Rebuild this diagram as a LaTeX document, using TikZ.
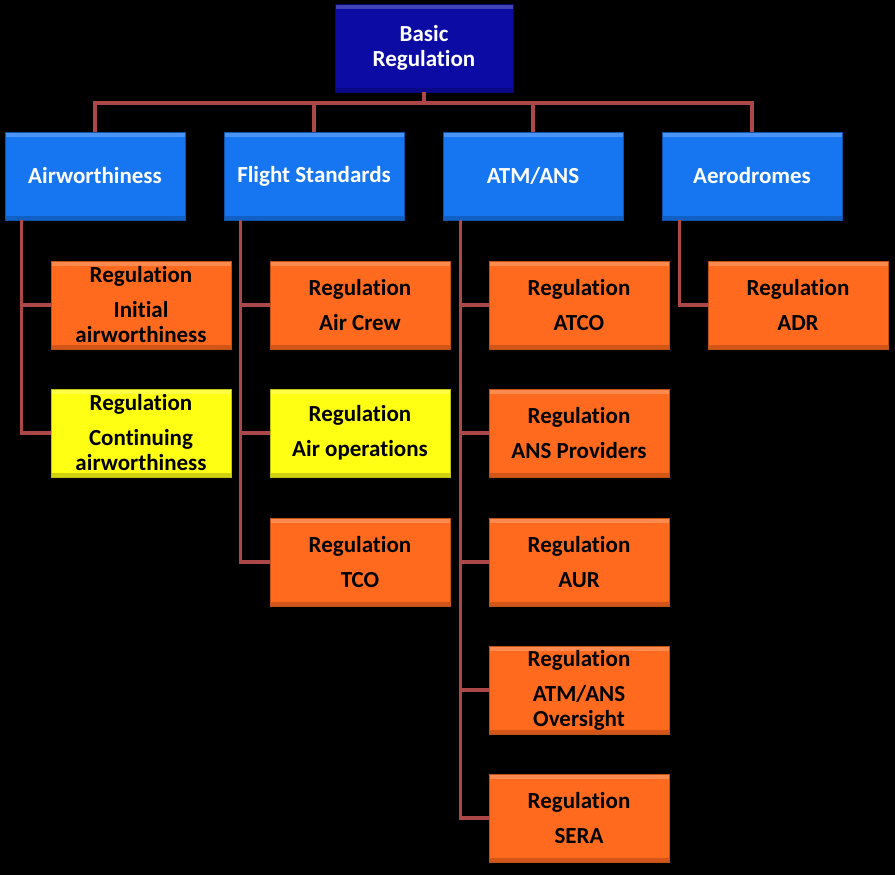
\documentclass[tikz,border=0pt]{standalone}
\usepackage{fontspec}
\setmainfont{Carlito}[Ligatures=NoCommon]
\begin{document}
\begin{tikzpicture}[x=1pt,y=-1pt,
  box/.style={rectangle, inner sep=0pt, minimum width=180pt, minimum height=88pt,
    align=center, font=\fontsize{23}{25}\selectfont\bfseries, line width=0.8pt,
    path picture={\fill[white,opacity=0.22] (path picture bounding box.north west) rectangle ([yshift=-5pt]path picture bounding box.north east);
                  \fill[black,opacity=0.18] (path picture bounding box.south west) rectangle ([yshift=4pt]path picture bounding box.south east);}},
  topbox/.style={box, minimum width=178pt, fill=topblue, draw=topblue!70!black, text=white},
  catbox/.style={box, fill=catblue, draw=catblue!70!black, text=white},
  regbox/.style={box, fill=regorange, draw=regorange!75!black, text=black},
  yelbox/.style={box, fill=regyellow, draw=regyellow!75!black, text=black},
  conn/.style={draw=connred, line width=3.2pt}
]
\definecolor{topblue}{RGB}{12,12,165}
\definecolor{catblue}{RGB}{22,118,242}
\definecolor{regorange}{RGB}{255,106,30}
\definecolor{regyellow}{RGB}{255,255,20}
\definecolor{connred}{RGB}{172,72,72}
\fill[black] (0,0) rectangle (895,875);
\useasboundingbox (0,0) rectangle (895,875);

\node[topbox] (basic) at (424,48) {Basic\\Regulation};

\node[catbox] (air) at (95,176) {Airworthiness};
\node[catbox] (fs)  at (314,176) {Flight Standards};
\node[catbox] (atm) at (533,176) {ATM/ANS};
\node[catbox] (adr) at (752,176) {Aerodromes};

\node[regbox] (init) at (141,305) {Regulation\\[10pt]Initial\\airworthiness};
\node[yelbox] (cont) at (141,433) {Regulation\\[10pt]Continuing\\airworthiness};

\node[regbox] (crew) at (360,305) {Regulation\\[10pt]Air Crew};
\node[yelbox] (ops)  at (360,433) {Regulation\\[10pt]Air operations};
\node[regbox] (tco)  at (360,562) {Regulation\\[10pt]TCO};

\node[regbox] (atco) at (579,305) {Regulation\\[10pt]ATCO};
\node[regbox] (ansp) at (579,433) {Regulation\\[10pt]ANS Providers};
\node[regbox] (aur)  at (579,562) {Regulation\\[10pt]AUR};
\node[regbox] (over) at (579,690) {Regulation\\[10pt]ATM/ANS\\Oversight};
\node[regbox] (sera) at (579,818) {Regulation\\[10pt]SERA};

\node[regbox] (adrr) at (798,305) {Regulation\\[10pt]ADR};

\coordinate (bus) at (424,103);
\draw[conn] (basic.south) -- (bus);
\draw[conn] (bus) -| (air.north);
\draw[conn] (bus) -| (fs.north);
\draw[conn] (bus) -| (atm.north);
\draw[conn] (bus) -| (adr.north);

\coordinate (airT) at ([xshift=17pt]air.south west);
\coordinate (fsT)  at ([xshift=17pt]fs.south west);
\coordinate (atmT) at ([xshift=18pt]atm.south west);
\coordinate (adrT) at ([xshift=18pt]adr.south west);

\draw[conn] (airT) |- (init.west);
\draw[conn] (airT) |- (cont.west);
\draw[conn] (fsT) |- (crew.west);
\draw[conn] (fsT) |- (ops.west);
\draw[conn] (fsT) |- (tco.west);
\draw[conn] (atmT) |- (atco.west);
\draw[conn] (atmT) |- (ansp.west);
\draw[conn] (atmT) |- (aur.west);
\draw[conn] (atmT) |- (over.west);
\draw[conn] (atmT) |- (sera.west);
\draw[conn] (adrT) |- (adrr.west);
\end{tikzpicture}
\end{document}
